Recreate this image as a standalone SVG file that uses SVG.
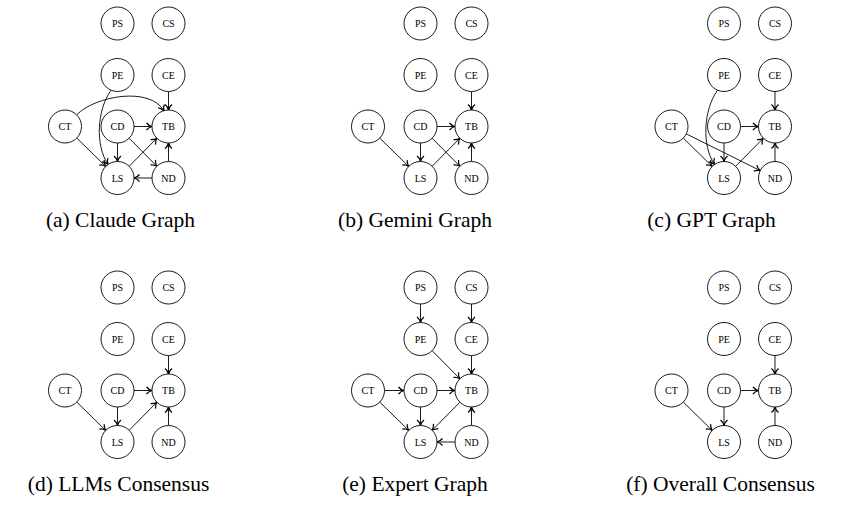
<svg xmlns="http://www.w3.org/2000/svg" width="844" height="508" viewBox="0 0 844 508">
<style>
.node circle{fill:#fff;stroke:#000;stroke-width:0.9}
.node text{font-family:'Liberation Serif','Times New Roman',serif;font-size:10px;text-anchor:middle;fill:#000}
.edges path,.edges line{stroke:#000;stroke-width:0.9;fill:none;marker-end:url(#arr)}
.cap{font-family:'Liberation Serif','Times New Roman',serif;font-size:21.5px;text-anchor:middle;fill:#000}
</style>
<defs>
<marker id="arr" markerUnits="userSpaceOnUse" markerWidth="10" markerHeight="10" viewBox="-6 -4 7 8" refX="0" refY="0" orient="auto" overflow="visible">
<path d="M-4.4,-2.8 C-3.1,-1.1 -1.2,-0.3 0,0 C-1.2,0.3 -3.1,1.1 -4.4,2.8" fill="none" stroke="#000" stroke-width="1"/>
</marker>
</defs>
<rect width="844" height="508" fill="#fff"/>

<!-- (a) Claude Graph -->
<g id="panel-a">
<g class="edges" id="a-edges">
<line x1="168.5" y1="91.5" x2="168.5" y2="110"/>
<path d="M76.7,114.8 C95,96 150,86 164,111"/>
<path d="M111,90.2 C97,110 95,145 108,164.5"/>
<line x1="76.8" y1="138.1" x2="105.7" y2="166.4"/>
<line x1="134" y1="126.5" x2="152" y2="126.5"/>
<line x1="117.5" y1="143" x2="117.5" y2="161.5"/>
<line x1="129.1" y1="138.2" x2="156.9" y2="166.3"/>
<line x1="129.1" y1="166.3" x2="156.9" y2="138.2"/>
<line x1="168.5" y1="161.5" x2="168.5" y2="143"/>
<line x1="152" y1="178" x2="134" y2="178"/>
</g>
<g id="a-PS" class="node"><circle cx="117.5" cy="23.5" r="16.5"/><text x="117.5" y="27">PS</text></g>
<g id="a-CS" class="node"><circle cx="168.5" cy="23.5" r="16.5"/><text x="168.5" y="27">CS</text></g>
<g id="a-PE" class="node"><circle cx="117.5" cy="75" r="16.5"/><text x="117.5" y="78.5">PE</text></g>
<g id="a-CE" class="node"><circle cx="168.5" cy="75" r="16.5"/><text x="168.5" y="78.5">CE</text></g>
<g id="a-CT" class="node"><circle cx="65" cy="126.5" r="16.5"/><text x="65" y="130">CT</text></g>
<g id="a-CD" class="node"><circle cx="117.5" cy="126.5" r="16.5"/><text x="117.5" y="130">CD</text></g>
<g id="a-TB" class="node"><circle cx="168.5" cy="126.5" r="16.5"/><text x="168.5" y="130">TB</text></g>
<g id="a-LS" class="node"><circle cx="117.5" cy="178" r="16.5"/><text x="117.5" y="181.5">LS</text></g>
<g id="a-ND" class="node"><circle cx="168.5" cy="178" r="16.5"/><text x="168.5" y="181.5">ND</text></g>
<text class="cap" x="120.5" y="227">(a) Claude Graph</text>
</g>

<!-- (b) Gemini Graph -->
<g id="panel-b" transform="translate(303,0)">
<g class="edges" id="b-edges">
<line x1="168.5" y1="91.5" x2="168.5" y2="110"/>
<line x1="76.8" y1="138.1" x2="105.7" y2="166.4"/>
<line x1="134" y1="126.5" x2="152" y2="126.5"/>
<line x1="117.5" y1="143" x2="117.5" y2="161.5"/>
<line x1="129.1" y1="138.2" x2="156.9" y2="166.3"/>
<line x1="129.1" y1="166.3" x2="156.9" y2="138.2"/>
<line x1="168.5" y1="161.5" x2="168.5" y2="143"/>
</g>
<g id="b-PS" class="node"><circle cx="117.5" cy="23.5" r="16.5"/><text x="117.5" y="27">PS</text></g>
<g id="b-CS" class="node"><circle cx="168.5" cy="23.5" r="16.5"/><text x="168.5" y="27">CS</text></g>
<g id="b-PE" class="node"><circle cx="117.5" cy="75" r="16.5"/><text x="117.5" y="78.5">PE</text></g>
<g id="b-CE" class="node"><circle cx="168.5" cy="75" r="16.5"/><text x="168.5" y="78.5">CE</text></g>
<g id="b-CT" class="node"><circle cx="65" cy="126.5" r="16.5"/><text x="65" y="130">CT</text></g>
<g id="b-CD" class="node"><circle cx="117.5" cy="126.5" r="16.5"/><text x="117.5" y="130">CD</text></g>
<g id="b-TB" class="node"><circle cx="168.5" cy="126.5" r="16.5"/><text x="168.5" y="130">TB</text></g>
<g id="b-LS" class="node"><circle cx="117.5" cy="178" r="16.5"/><text x="117.5" y="181.5">LS</text></g>
<g id="b-ND" class="node"><circle cx="168.5" cy="178" r="16.5"/><text x="168.5" y="181.5">ND</text></g>
<text class="cap" x="112" y="227">(b) Gemini Graph</text>
</g>

<!-- (c) GPT Graph -->
<g id="panel-c" transform="translate(606.5,0)">
<g class="edges" id="c-edges">
<line x1="168.5" y1="91.5" x2="168.5" y2="110"/>
<path d="M111,90.2 C97,110 95,145 108,164.5"/>
<line x1="76.8" y1="138.1" x2="105.7" y2="166.4"/>
<line x1="79.8" y1="133.9" x2="153.7" y2="170.6"/>
<line x1="134" y1="126.5" x2="152" y2="126.5"/>
<line x1="117.5" y1="143" x2="117.5" y2="161.5"/>
<line x1="129.1" y1="166.3" x2="156.9" y2="138.2"/>
<line x1="168.5" y1="161.5" x2="168.5" y2="143"/>
</g>
<g id="c-PS" class="node"><circle cx="117.5" cy="23.5" r="16.5"/><text x="117.5" y="27">PS</text></g>
<g id="c-CS" class="node"><circle cx="168.5" cy="23.5" r="16.5"/><text x="168.5" y="27">CS</text></g>
<g id="c-PE" class="node"><circle cx="117.5" cy="75" r="16.5"/><text x="117.5" y="78.5">PE</text></g>
<g id="c-CE" class="node"><circle cx="168.5" cy="75" r="16.5"/><text x="168.5" y="78.5">CE</text></g>
<g id="c-CT" class="node"><circle cx="65" cy="126.5" r="16.5"/><text x="65" y="130">CT</text></g>
<g id="c-CD" class="node"><circle cx="117.5" cy="126.5" r="16.5"/><text x="117.5" y="130">CD</text></g>
<g id="c-TB" class="node"><circle cx="168.5" cy="126.5" r="16.5"/><text x="168.5" y="130">TB</text></g>
<g id="c-LS" class="node"><circle cx="117.5" cy="178" r="16.5"/><text x="117.5" y="181.5">LS</text></g>
<g id="c-ND" class="node"><circle cx="168.5" cy="178" r="16.5"/><text x="168.5" y="181.5">ND</text></g>
<text class="cap" x="105" y="227">(c) GPT Graph</text>
</g>

<!-- (d) LLMs Consensus -->
<g id="panel-d" transform="translate(0,264)">
<g class="edges" id="d-edges">
<line x1="168.5" y1="91.5" x2="168.5" y2="110"/>
<line x1="76.8" y1="138.1" x2="105.7" y2="166.4"/>
<line x1="134" y1="126.5" x2="152" y2="126.5"/>
<line x1="117.5" y1="143" x2="117.5" y2="161.5"/>
<line x1="129.1" y1="166.3" x2="156.9" y2="138.2"/>
<line x1="168.5" y1="161.5" x2="168.5" y2="143"/>
</g>
<g id="d-PS" class="node"><circle cx="117.5" cy="23.5" r="16.5"/><text x="117.5" y="27">PS</text></g>
<g id="d-CS" class="node"><circle cx="168.5" cy="23.5" r="16.5"/><text x="168.5" y="27">CS</text></g>
<g id="d-PE" class="node"><circle cx="117.5" cy="75" r="16.5"/><text x="117.5" y="78.5">PE</text></g>
<g id="d-CE" class="node"><circle cx="168.5" cy="75" r="16.5"/><text x="168.5" y="78.5">CE</text></g>
<g id="d-CT" class="node"><circle cx="65" cy="126.5" r="16.5"/><text x="65" y="130">CT</text></g>
<g id="d-CD" class="node"><circle cx="117.5" cy="126.5" r="16.5"/><text x="117.5" y="130">CD</text></g>
<g id="d-TB" class="node"><circle cx="168.5" cy="126.5" r="16.5"/><text x="168.5" y="130">TB</text></g>
<g id="d-LS" class="node"><circle cx="117.5" cy="178" r="16.5"/><text x="117.5" y="181.5">LS</text></g>
<g id="d-ND" class="node"><circle cx="168.5" cy="178" r="16.5"/><text x="168.5" y="181.5">ND</text></g>
<text class="cap" x="118.5" y="227">(d) LLMs Consensus</text>
</g>

<!-- (e) Expert Graph -->
<g id="panel-e" transform="translate(303,264)">
<g class="edges" id="e-edges">
<line x1="117.5" y1="40" x2="117.5" y2="58.5"/>
<line x1="168.5" y1="40" x2="168.5" y2="58.5"/>
<line x1="129.1" y1="86.7" x2="156.9" y2="114.8"/>
<line x1="168.5" y1="91.5" x2="168.5" y2="110"/>
<line x1="81.5" y1="126.5" x2="101" y2="126.5"/>
<line x1="134" y1="126.5" x2="152" y2="126.5"/>
<line x1="76.8" y1="138.1" x2="105.7" y2="166.4"/>
<line x1="117.5" y1="143" x2="117.5" y2="161.5"/>
<line x1="156.9" y1="138.2" x2="129.1" y2="166.3"/>
<line x1="152" y1="178" x2="134" y2="178"/>
<line x1="168.5" y1="161.5" x2="168.5" y2="143"/>
</g>
<g id="e-PS" class="node"><circle cx="117.5" cy="23.5" r="16.5"/><text x="117.5" y="27">PS</text></g>
<g id="e-CS" class="node"><circle cx="168.5" cy="23.5" r="16.5"/><text x="168.5" y="27">CS</text></g>
<g id="e-PE" class="node"><circle cx="117.5" cy="75" r="16.5"/><text x="117.5" y="78.5">PE</text></g>
<g id="e-CE" class="node"><circle cx="168.5" cy="75" r="16.5"/><text x="168.5" y="78.5">CE</text></g>
<g id="e-CT" class="node"><circle cx="65" cy="126.5" r="16.5"/><text x="65" y="130">CT</text></g>
<g id="e-CD" class="node"><circle cx="117.5" cy="126.5" r="16.5"/><text x="117.5" y="130">CD</text></g>
<g id="e-TB" class="node"><circle cx="168.5" cy="126.5" r="16.5"/><text x="168.5" y="130">TB</text></g>
<g id="e-LS" class="node"><circle cx="117.5" cy="178" r="16.5"/><text x="117.5" y="181.5">LS</text></g>
<g id="e-ND" class="node"><circle cx="168.5" cy="178" r="16.5"/><text x="168.5" y="181.5">ND</text></g>
<text class="cap" x="112" y="227">(e) Expert Graph</text>
</g>

<!-- (f) Overall Consensus -->
<g id="panel-f" transform="translate(606.5,264)">
<g class="edges" id="f-edges">
<line x1="168.5" y1="91.5" x2="168.5" y2="110"/>
<line x1="76.8" y1="138.1" x2="105.7" y2="166.4"/>
<line x1="134" y1="126.5" x2="152" y2="126.5"/>
<line x1="117.5" y1="143" x2="117.5" y2="161.5"/>
<line x1="168.5" y1="161.5" x2="168.5" y2="143"/>
</g>
<g id="f-PS" class="node"><circle cx="117.5" cy="23.5" r="16.5"/><text x="117.5" y="27">PS</text></g>
<g id="f-CS" class="node"><circle cx="168.5" cy="23.5" r="16.5"/><text x="168.5" y="27">CS</text></g>
<g id="f-PE" class="node"><circle cx="117.5" cy="75" r="16.5"/><text x="117.5" y="78.5">PE</text></g>
<g id="f-CE" class="node"><circle cx="168.5" cy="75" r="16.5"/><text x="168.5" y="78.5">CE</text></g>
<g id="f-CT" class="node"><circle cx="65" cy="126.5" r="16.5"/><text x="65" y="130">CT</text></g>
<g id="f-CD" class="node"><circle cx="117.5" cy="126.5" r="16.5"/><text x="117.5" y="130">CD</text></g>
<g id="f-TB" class="node"><circle cx="168.5" cy="126.5" r="16.5"/><text x="168.5" y="130">TB</text></g>
<g id="f-LS" class="node"><circle cx="117.5" cy="178" r="16.5"/><text x="117.5" y="181.5">LS</text></g>
<g id="f-ND" class="node"><circle cx="168.5" cy="178" r="16.5"/><text x="168.5" y="181.5">ND</text></g>
<text class="cap" x="114" y="227">(f) Overall Consensus</text>
</g>
</svg>
